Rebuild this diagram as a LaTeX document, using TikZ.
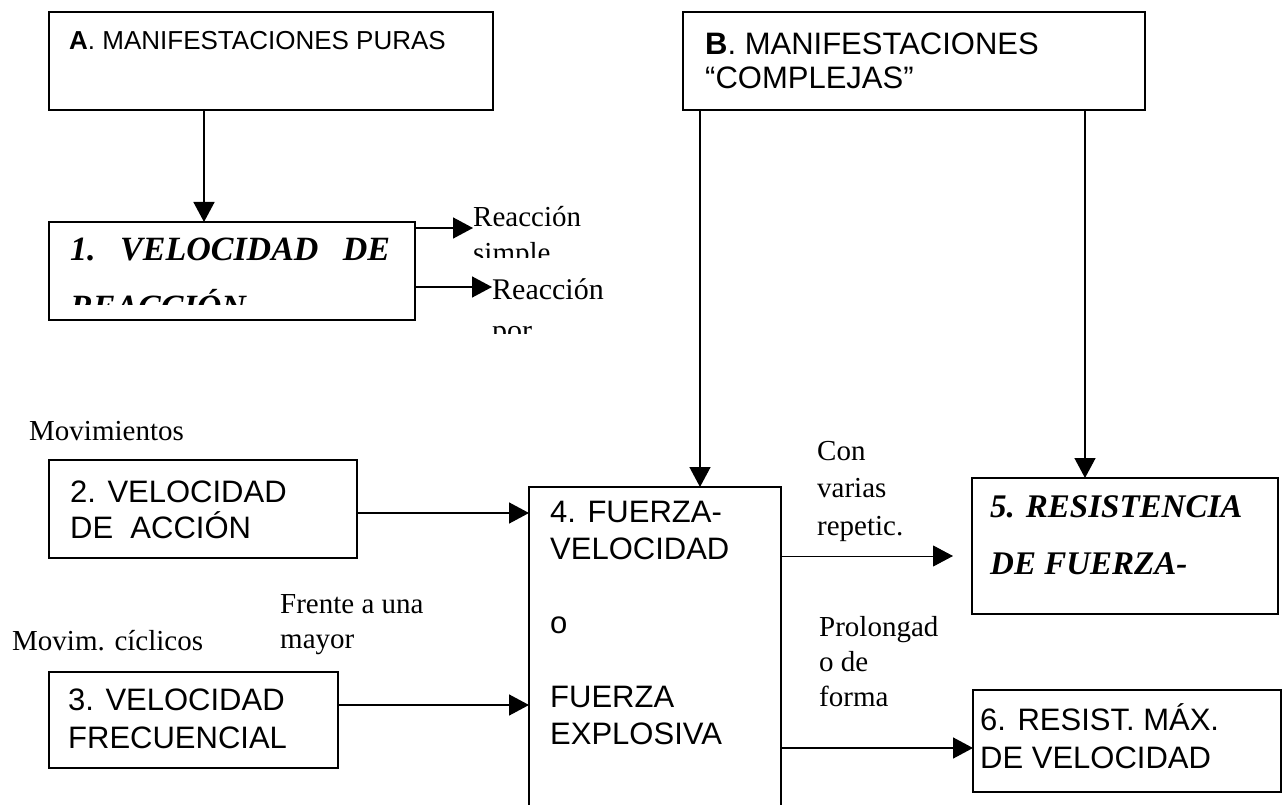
\documentclass[tikz,border=0pt]{standalone}
\usepackage{fontspec}
\setmainfont{Liberation Serif}
\setsansfont{Liberation Sans}
\usetikzlibrary{arrows.meta,calc}
\tikzstyle{frame}=[draw, line width=1.5pt, inner sep=0pt, outer sep=0pt]
\tikzstyle{link}=[line width=1.5pt, -{Triangle[length=20pt,width=21pt]}]
\tikzstyle{boxtext}=[inner sep=0pt, anchor=base west, align=left, font=\sffamily\fontsize{31}{37}\selectfont]
\tikzstyle{boldtext}=[inner sep=0pt, anchor=base west, align=left, font=\bfseries\itshape\fontsize{33}{57}\selectfont]
\tikzstyle{notetext}=[inner sep=0pt, anchor=base west, align=left, font=\fontsize{29}{36}\selectfont]

\begin{document}
\begin{tikzpicture}[x=1pt,y=-1pt]
		\clip (0,0) rectangle (1286,805);
		\fill[white] (0,0) rectangle (1286,805);
		% boxes
		\node[frame, minimum width=444pt, minimum height=98pt] (boxA) at (271,61) {};
		\node[frame, minimum width=462pt, minimum height=98pt] (boxB) at (914,61) {};
		\node[frame, minimum width=366pt, minimum height=98pt] (box1) at (232,271) {};
		\node[frame, minimum width=308pt, minimum height=98pt] (box2) at (203,509) {};
		\node[frame, minimum width=289pt, minimum height=96pt] (box3) at (193.5,720) {};
		\node[frame, minimum width=252pt, minimum height=343pt] (box4) at (655,658.5) {};
		\node[frame, minimum width=306pt, minimum height=136pt] (box5) at (1125,546) {};
		\node[frame, minimum width=308pt, minimum height=102pt] (box6) at (1127,741) {};
		% box texts (base = last line)
		\node[boxtext, font=\sffamily\fontsize{26}{30}\selectfont] (textA) at (69,50) {\textbf{A}. MANIFESTACIONES PURAS};
		\node[boxtext, font=\sffamily\fontsize{31}{34}\selectfont] (textB) at (705,89) {\textbf{B}. MANIFESTACIONES\\“COMPLEJAS”};
		\begin{scope}
			\clip (box1.north west) rectangle ([yshift=15pt]box1.south east);
			\node[boldtext, text width=320pt, font=\bfseries\itshape\fontsize{34}{58}\selectfont] (text1) at (70,261) {1.\hfill VELOCIDAD\hfill DE\\REACCIÓN};
		\end{scope}
		\node[boxtext, font=\sffamily\fontsize{31}{36}\selectfont] (text2) at (70,538) {2. VELOCIDAD\\DE\ \ ACCIÓN};
		\node[boxtext, font=\sffamily\fontsize{31}{38}\selectfont] (text3) at (68,748) {3. VELOCIDAD\\FRECUENCIAL};
		\node[boxtext] (text4) at (550,744) {4. FUERZA-\\VELOCIDAD\\[37pt]o\\[37pt]FUERZA\\EXPLOSIVA};
		\node[boldtext] (text5) at (990,574) {5. RESISTENCIA\\DE FUERZA-};
		\node[boxtext, font=\sffamily\fontsize{31}{38}\selectfont] (text6) at (980,768) {6. RESIST. MÁX.\\DE VELOCIDAD};
		% side notes
		\node[notetext] (movA) at (29,440) {Movimientos};
		\node[notetext] (movB) at (12,650) {Movim. cíclicos};
		\node[notetext, font=\fontsize{29}{35}\selectfont] (frente) at (280,648) {Frente a una\\mayor};
		\node[notetext, font=\fontsize{29}{37.5}\selectfont] (repet) at (817,535) {Con\\varias\\repetic.};
		\node[notetext, font=\fontsize{29}{35}\selectfont] (prolong) at (819,706) {Prolongad\\o de\\forma};
		\begin{scope}
			\clip (460,190) rectangle (660,258);
			\node[notetext] (react1) at (473,263) {Reacción\\simple};
		\end{scope}
		\begin{scope}
			\clip (480,262) rectangle (680,333);
			\node[notetext, font=\fontsize{30}{40}\selectfont] (react2) at (492,340) {Reacción\\por};
		\end{scope}
		% connectors
		\coordinate (r1) at ([yshift=-6pt]box1.north east);
		\coordinate (r2) at ([yshift=-65pt]box1.north east);
		\coordinate (s2) at ([yshift=-53pt]box2.north east);
		\coordinate (s3) at ([yshift=-33pt]box3.north east);
		\coordinate (s5) at ([yshift=-69pt]box4.north east);
		\coordinate (s6) at ([yshift=-261pt]box4.north east);
		\draw[link] ([xshift=155pt]boxA.south west) -- ([xshift=155pt]box1.north west);
		\draw[link] ([xshift=17pt]boxB.south west) -- ([xshift=171pt]box4.north west);
		\draw[link] ([xshift=402pt]boxB.south west) -- ([xshift=113pt]box5.north west);
		\draw[link] (r1) -- (r1 -| react1.west);
		\draw[link] (r2) -- (r2 -| react2.west);
		\draw[link] (s2) -- (s2 -| box4.west);
		\draw[link] (s3) -- (s3 -| box4.west);
		\draw[link, line width=1pt, shorten >=19pt] (s5) -- (s5 -| box5.west);
		\draw[link] (s6) -- (s6 -| box6.west);
	\end{tikzpicture}
\end{document}
